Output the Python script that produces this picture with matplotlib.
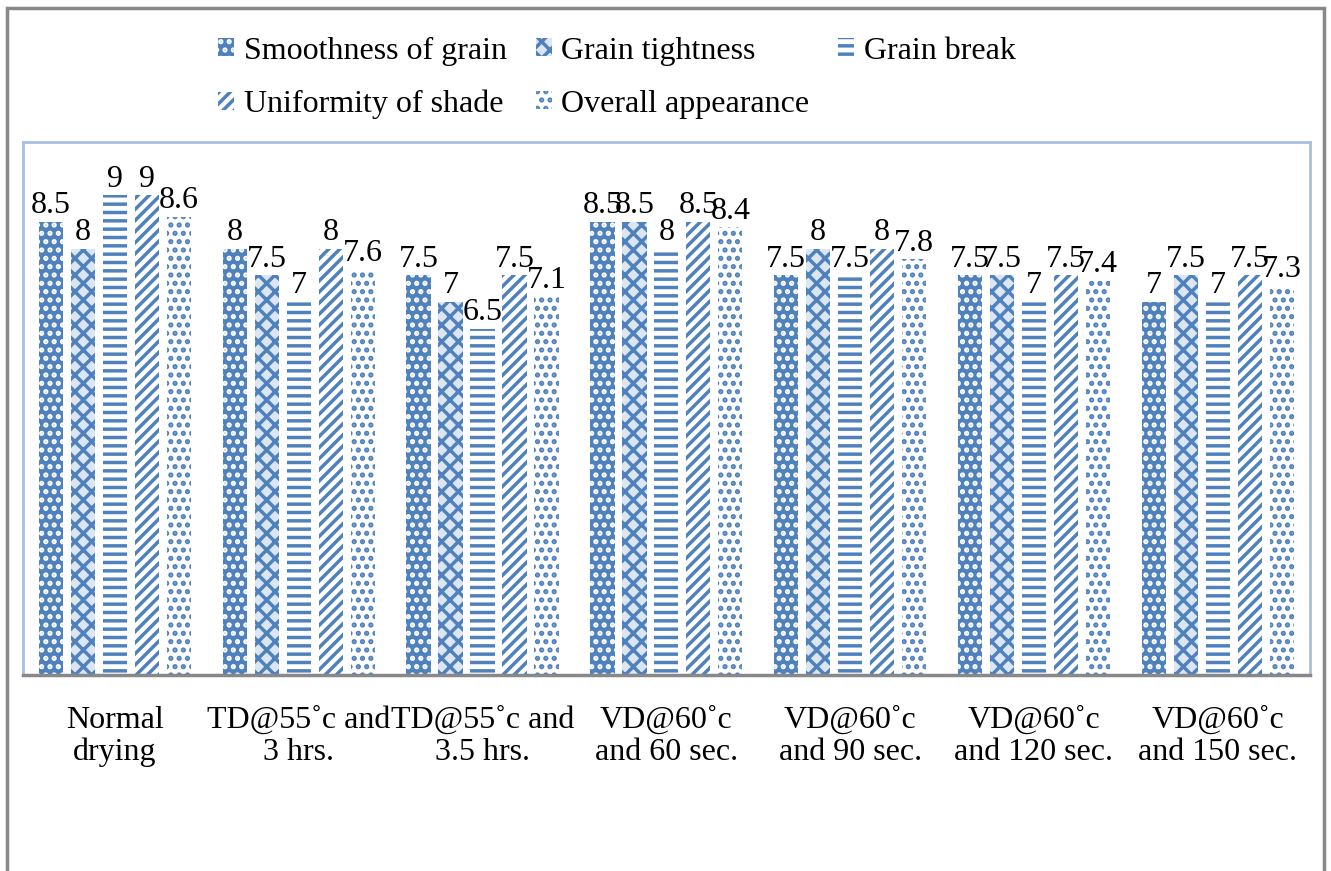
import numpy as np
import matplotlib.pyplot as plt
from matplotlib.patches import Rectangle

plt.rcParams['font.family'] = ['Liberation Serif', 'DejaVu Serif']
plt.rcParams['hatch.linewidth'] = 2.5

categories = ['Normal\ndrying', 'TD@55˚c and\n3 hrs.', 'TD@55˚c and\n3.5 hrs.',
              'VD@60˚c\nand 60 sec.', 'VD@60˚c\nand 90 sec.', 'VD@60˚c\nand 120 sec.',
              'VD@60˚c\nand 150 sec.']
series = ['Smoothness of grain', 'Grain tightness', 'Grain break',
          'Uniformity of shade', 'Overall appearance']
smoothness = [8.5, 8, 7.5, 8.5, 7.5, 7.5, 7]
tightness = [8, 7.5, 7, 8.5, 8, 7.5, 7.5]
grain_break = [9, 7, 6.5, 8, 7.5, 7, 7]
uniformity = [9, 8, 7.5, 8.5, 8, 7.5, 7.5]
overall = [8.6, 7.6, 7.1, 8.4, 7.8, 7.4, 7.3]
values = [smoothness, tightness, grain_break, uniformity, overall]

blue = '#4f81bd'
# (facecolor, hatch colour, hatch)
styles = [(blue, 'white', '..'),
          ('#dce6f2', blue, 'xx'),
          ('white', blue, '--'),
          ('white', blue, '///'),
          ('white', blue, '..')]

fig = plt.figure(figsize=(13.31, 8.71), dpi=100)
ax = fig.add_axes([0.0173, 0.225, 0.9667, 0.612])

x = np.arange(len(categories))
step = 0.174
width = 0.132
handles = []
for i, (name, vals) in enumerate(zip(series, values)):
    fc, hc, h = styles[i]
    pos = x + (i - 2) * step
    bars = ax.bar(pos, vals, width, facecolor=fc, edgecolor=hc, hatch=h,
                  linewidth=0, label=name)
    handles.append(bars)
    for p, v in zip(pos, vals):
        ax.text(p, v + 0.03, f'{v:g}', ha='center', va='bottom', fontsize=23)

ax.set_xlim(-0.5, len(categories) - 0.5)
ax.set_ylim(0, 10)
ax.set_yticks([])
ax.set_xticks(x)
ax.set_xticklabels(categories, fontsize=23, linespacing=1.15)
ax.tick_params(axis='x', length=0, pad=22)
for s in ['top', 'left', 'right']:
    ax.spines[s].set_color('#a7c0de')
    ax.spines[s].set_linewidth(2)
ax.spines['bottom'].set_color('#888888')
ax.spines['bottom'].set_linewidth(2.5)

# legend is filled column by column, so reorder to read row by row
order = [0, 3, 1, 4, 2]
fig.legend([handles[k] for k in order], [series[k] for k in order],
           loc='upper left', bbox_to_anchor=(0.164, 0.958), ncol=3,
           frameon=False, fontsize=23, handlelength=0.5, handleheight=0.5,
           handletextpad=0.3, columnspacing=0.9, labelspacing=0.75,
           borderpad=0, borderaxespad=0)

fig.patches.append(Rectangle((7 / 1331, -0.1), 1317 / 1331, 1.1 - 8 / 871,
                             transform=fig.transFigure, fill=False,
                             edgecolor='#888888', linewidth=2.5))

fig.savefig('out.png', dpi=100)
